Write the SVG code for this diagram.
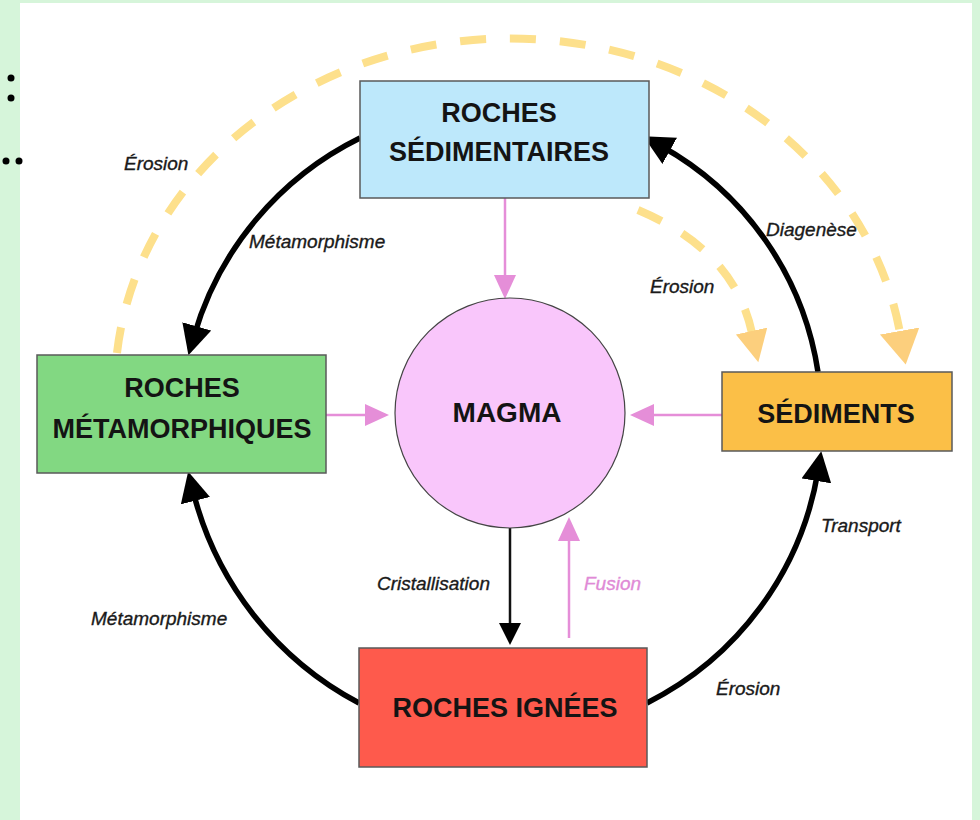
<svg xmlns="http://www.w3.org/2000/svg" width="980" height="820" viewBox="0 0 980 820">
<style>
.box{stroke:#5a5a5a;stroke-width:1.5}
.title{font-family:"Liberation Sans",Arial,sans-serif;font-size:27px;fill:#141414;text-anchor:middle;font-weight:bold}
.lbl{font-family:"Liberation Sans",Arial,sans-serif;font-size:19px;font-style:italic;fill:#1a1a1a;stroke:#1a1a1a;stroke-width:0.35}
.cycle{fill:none;stroke:#000;stroke-width:5.5}
.pink{fill:none;stroke:#e58ed8;stroke-width:2.5}
.thin{fill:none;stroke:#111;stroke-width:2.5}
.dash{fill:none;stroke:#fde08c;stroke-width:8;stroke-dasharray:26 24}
</style>
<defs>
<marker id="hBlack" markerUnits="userSpaceOnUse" markerWidth="32" markerHeight="30" refX="10" refY="15" orient="auto">
<path d="M0,0 L30,15 L0,30 z" fill="#000"/>
</marker>
<marker id="hThin" markerUnits="userSpaceOnUse" markerWidth="24" markerHeight="22" refX="4" refY="11" orient="auto">
<path d="M0,0 L22,11 L0,22 z" fill="#000"/>
</marker>
<marker id="hPink" markerUnits="userSpaceOnUse" markerWidth="24" markerHeight="24" refX="4" refY="11" orient="auto">
<path d="M0,0 L24,11 L0,22 z" fill="#e58ed8"/>
</marker>
<marker id="hYellowS" markerUnits="userSpaceOnUse" markerWidth="34" markerHeight="34" refX="2" refY="16" orient="auto">
<path d="M0,0 L32,16 L0,32 z" fill="#fccf7d"/>
</marker>
<marker id="hYellowL" markerUnits="userSpaceOnUse" markerWidth="36" markerHeight="42" refX="2" refY="20" orient="auto">
<path d="M0,0 L34,20 L0,40 z" fill="#fccf7d"/>
</marker>
</defs>

<rect x="0" y="0" width="980" height="820" fill="#d6f5da"/>
<rect x="20" y="3" width="952" height="817" fill="#ffffff"/>
<g id="margin-dots" fill="#000">
<circle cx="11" cy="78" r="3.5"/>
<circle cx="11" cy="98" r="3.5"/>
<circle cx="6" cy="161" r="3.5"/>
<circle cx="19" cy="161" r="3.5"/>
</g>

<g id="connectors">
<path class="dash" d="M 117 353 A 395 350 0 0 1 900 333" marker-end="url(#hYellowL)"/>
<path class="dash" d="M 638 210 C 690 232, 738 268, 752 333" marker-end="url(#hYellowS)"/>
<path class="cycle" d="M 360 138 A 320 320 0 0 0 194 336" marker-end="url(#hBlack)"/>
<path class="cycle" d="M 818 372 A 312 312 0 0 0 661 146" marker-end="url(#hBlack)"/>
<path class="cycle" d="M 647 703 A 318 318 0 0 0 818 471" marker-end="url(#hBlack)"/>
<path class="cycle" d="M 359 703 A 330 330 0 0 1 193 491" marker-end="url(#hBlack)"/>
<path class="pink" d="M 505 198 L 505 279" marker-end="url(#hPink)"/>
<path class="pink" d="M 326 415 L 369 415" marker-end="url(#hPink)"/>
<path class="pink" d="M 722 415 L 650 415" marker-end="url(#hPink)"/>
<path class="pink" d="M 569 638 L 569 537" marker-end="url(#hPink)"/>
<path class="thin" d="M 510 527 L 510 627" marker-end="url(#hThin)"/>
<text class="lbl" x="124" y="170">Érosion</text>
<text class="lbl" x="249" y="248">Métamorphisme</text>
<text class="lbl" x="766" y="236">Diagenèse</text>
<text class="lbl" x="650" y="293">Érosion</text>
<text class="lbl" x="821" y="532">Transport</text>
<text class="lbl" x="716" y="695">Érosion</text>
<text class="lbl" x="91" y="625">Métamorphisme</text>
<text class="lbl" x="377" y="590">Cristallisation</text>
<text class="lbl" x="584" y="590" style="fill:#e08ad6;stroke:#e08ad6">Fusion</text>
</g>

<g id="roches-sedimentaires">
<rect class="box" x="360" y="81" width="289" height="117" fill="#bde8fb"/>
<text class="title" x="499" y="122">ROCHES</text>
<text class="title" x="499" y="161">SÉDIMENTAIRES</text>
</g>
<g id="roches-metamorphiques">
<rect class="box" x="37" y="355" width="289" height="118" fill="#82d882"/>
<text class="title" x="182" y="397">ROCHES</text>
<text class="title" x="182" y="438">MÉTAMORPHIQUES</text>
</g>
<g id="magma">
<circle cx="510" cy="413" r="115" fill="#f9c6fb" stroke="#444" stroke-width="1.2"/>
<text class="title" x="507" y="422" style="font-size:28px">MAGMA</text>
</g>
<g id="sediments">
<rect class="box" x="722" y="372" width="230" height="79" fill="#fbbf47"/>
<text class="title" x="836" y="423">SÉDIMENTS</text>
</g>
<g id="roches-ignees">
<rect class="box" x="359" y="648" width="288" height="119" fill="#fe5a4c"/>
<text class="title" x="505" y="717">ROCHES IGNÉES</text>
</g>
</svg>
